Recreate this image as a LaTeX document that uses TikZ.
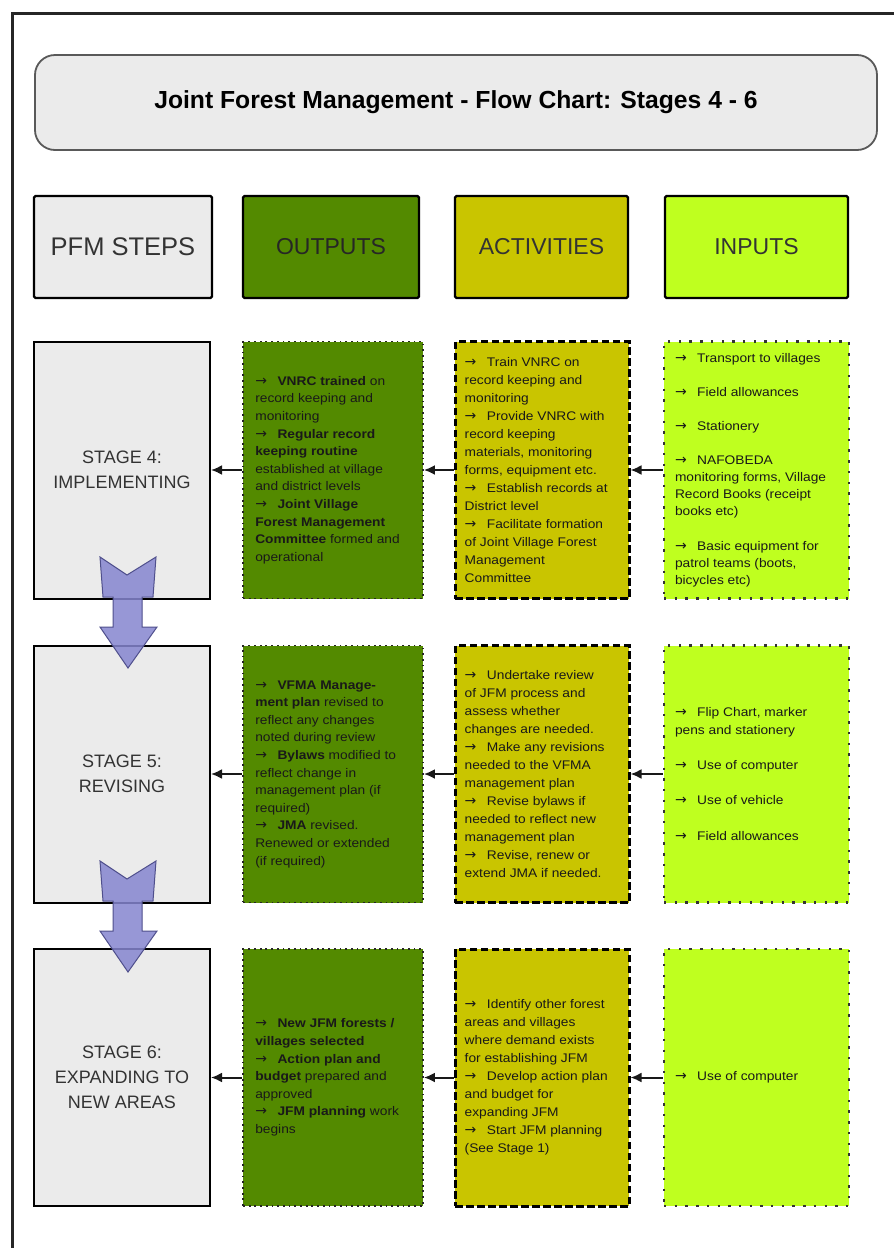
\documentclass[tikz,border=0pt]{standalone}
\usepackage{fontspec}
\setmainfont{Liberation Sans}
\newfontfamily\boxfont{Liberation Sans}[FakeStretch=1.1]
\newfontfamily\arrfont{DejaVu Sans}
\usetikzlibrary{arrows.meta}
\definecolor{pgray}{HTML}{EBEBEB}
\definecolor{outg}{HTML}{538A00}
\definecolor{acty}{HTML}{C9C500}
\definecolor{inl}{HTML}{BFFF1F}
\definecolor{barrow}{HTML}{8585CF}
\definecolor{barrowd}{HTML}{4F4F8C}
\definecolor{txtg}{HTML}{333333}
\newcommand\rar{{\arrfont\fontsize{14}{12}\selectfont →}\hspace{10.5pt}}
\begin{document}
\begin{tikzpicture}[x=1pt,y=-1pt,
  hdr/.style={draw=black, line width=2.2pt, rounded corners=1.5pt, minimum height=102, font=\fontsize{23}{27}\selectfont, text=txtg},
  stagebox/.style={draw=black, line width=2pt, fill=pgray, minimum width=176, minimum height=257, font=\fontsize{18}{25}\selectfont, text=txtg, align=center},
  outbox/.style={draw=black!85, fill=outg, line width=1.8pt, dash pattern=on 1.8pt off 3.9pt, minimum width=180, minimum height=257},
  actbox/.style={draw=black, fill=acty, line width=3pt, dash pattern=on 7.5pt off 3.5pt, minimum width=174, minimum height=257},
  inbox/.style={draw=black!80, fill=inl, line width=2.4pt, dash pattern=on 2.4pt off 8.3pt, minimum width=185, minimum height=257},
  txt/.style={font=\boxfont\fontsize{12.5}{17.6}\selectfont, align=left, anchor=west, inner sep=0pt, text=black!90},
  txta/.style={txt, font=\boxfont\fontsize{12.5}{18}\selectfont},
  txti/.style={txt, font=\boxfont\fontsize{12.5}{17.1}\selectfont},
  conn/.style={draw=black!90, line width=2pt, -{Latex[length=11pt,width=10pt]}},
  blockarrow/.style={fill=barrow, fill opacity=0.85, draw=barrowd, line width=1pt, line join=miter},
]
\useasboundingbox (0,0) rectangle (894,1248);
\fill[white] (0,0) rectangle (894,1248);
\draw[line width=3pt, black!85] (12,1252) -- (12,13) -- (898,13);

% title
\node[draw=black!65, line width=1.8pt, fill=pgray, rounded corners=20pt, minimum width=842, minimum height=95,
  font=\fontsize{24.7}{28}\selectfont\bfseries, text=black] (title) at (456,102.5)
  {Joint Forest Management - Flow Chart: Stages 4 - 6};

% headers
\node[hdr, fill=pgray, minimum width=178, font=\fontsize{25.5}{30}\selectfont] (hpfm) at (123,247) {PFM STEPS};
\node[hdr, fill=outg, minimum width=176, text=black!85] (hout) at (331,247) {OUTPUTS};
\node[hdr, fill=acty, minimum width=173] (hact) at (541.5,247) {ACTIVITIES};
\node[hdr, fill=inl, minimum width=183] (hin) at (756.5,247) {INPUTS};

% stage row boxes
\node[stagebox] (s4) at (122,470) {STAGE 4:\\IMPLEMENTING};
\node[stagebox] (s5) at (122,774) {STAGE 5:\\REVISING};
\node[stagebox] (s6) at (122,1077.5) {STAGE 6:\\EXPANDING TO\\NEW AREAS};

\node[outbox] (o4) at (333,470) {};
\node[outbox] (o5) at (333,774) {};
\node[outbox] (o6) at (333,1077.5) {};
\node[actbox] (a4) at (542,470) {};
\node[actbox] (a5) at (542,774) {};
\node[actbox] (a6) at (542,1077.5) {};
\node[inbox] (i4) at (756.5,470) {};
\node[inbox] (i5) at (756.5,774) {};
\node[inbox] (i6) at (756.5,1077.5) {};

% texts
\node[txt] (to4) at ([xshift=13pt]o4.west) {\rar\textbf{VNRC trained} on\\
record keeping and\\
monitoring\\
\rar\textbf{Regular record}\\
\textbf{keeping routine}\\
established at village\\
and district levels\\
\rar\textbf{Joint Village}\\
\textbf{Forest Management}\\
\textbf{Committee} formed and\\
operational};
\node[txta] (ta4) at ([xshift=11pt]a4.west) {\rar Train VNRC on\\record keeping and\\monitoring\\\rar Provide VNRC with\\record keeping\\materials, monitoring\\forms, equipment etc.\\\rar Establish records at\\District level\\\rar Facilitate formation\\of Joint Village Forest\\Management\\Committee};
\node[txti] (ti4) at ([xshift=12pt]i4.west) {\rar Transport to villages\\[17.1pt]
\rar Field allowances\\[17.1pt]
\rar Stationery\\[17.1pt]
\rar NAFOBEDA\\
monitoring forms, Village\\
Record Books (receipt\\
books etc)\\[17.1pt]
\rar Basic equipment for\\
patrol teams (boots,\\
bicycles etc)};

\node[txt] (to5) at ([xshift=13pt]o5.west) {\rar\textbf{VFMA Manage-}\\
\textbf{ment plan} revised to\\
reflect any changes\\
noted during review\\
\rar\textbf{Bylaws} modified to\\
reflect change in\\
management plan (if\\
required)\\
\rar\textbf{JMA} revised.\\
Renewed or extended\\
(if required)};
\node[txta] (ta5) at ([xshift=11pt]a5.west) {\rar Undertake review\\of JFM process and\\assess whether\\changes are needed.\\\rar Make any revisions\\needed to the VFMA\\management plan\\\rar Revise bylaws if\\needed to reflect new\\management plan\\\rar Revise, renew or\\extend JMA if needed.};
\node[txt] (ti5) at ([xshift=12pt]i5.west) {\rar Flip Chart, marker\\pens and stationery\\[17.6pt]\rar Use of computer\\[17.6pt]\rar Use of vehicle\\[17.6pt]\rar Field allowances};

\node[txt] (to6) at ([xshift=13pt]o6.west) {\rar\textbf{New JFM forests /}\\\textbf{villages selected}\\\rar\textbf{Action plan and}\\\textbf{budget} prepared and\\approved\\\rar\textbf{JFM planning} work\\begins};
\node[txta] (ta6) at ([xshift=11pt]a6.west) {\rar Identify other forest\\areas and villages\\where demand exists\\for establishing JFM\\\rar Develop action plan\\and budget for\\expanding JFM\\\rar Start JFM planning\\(See Stage 1)};
\node[txt] (ti6) at ([xshift=12pt]i6.west) {\rar Use of computer};

% connectors
\foreach \r in {4,5,6}{
  \draw[conn] (i\r) -- (a\r);
  \draw[conn] (a\r) -- (o\r);
  \draw[conn] (o\r) -- (s\r);
}

% block arrows between stages
\foreach \dy in {0,304}{
  \begin{scope}[shift={(0,\dy)}]
    \draw[blockarrow] (100,557) -- (127,575) -- (156,557) -- (153,597) -- (142,597) -- (142,627)
      -- (157,627) -- (128,668) -- (100,627) -- (113,627) -- (113,597) -- (103,597) -- cycle;
  \end{scope}
}
\end{tikzpicture}
\end{document}
